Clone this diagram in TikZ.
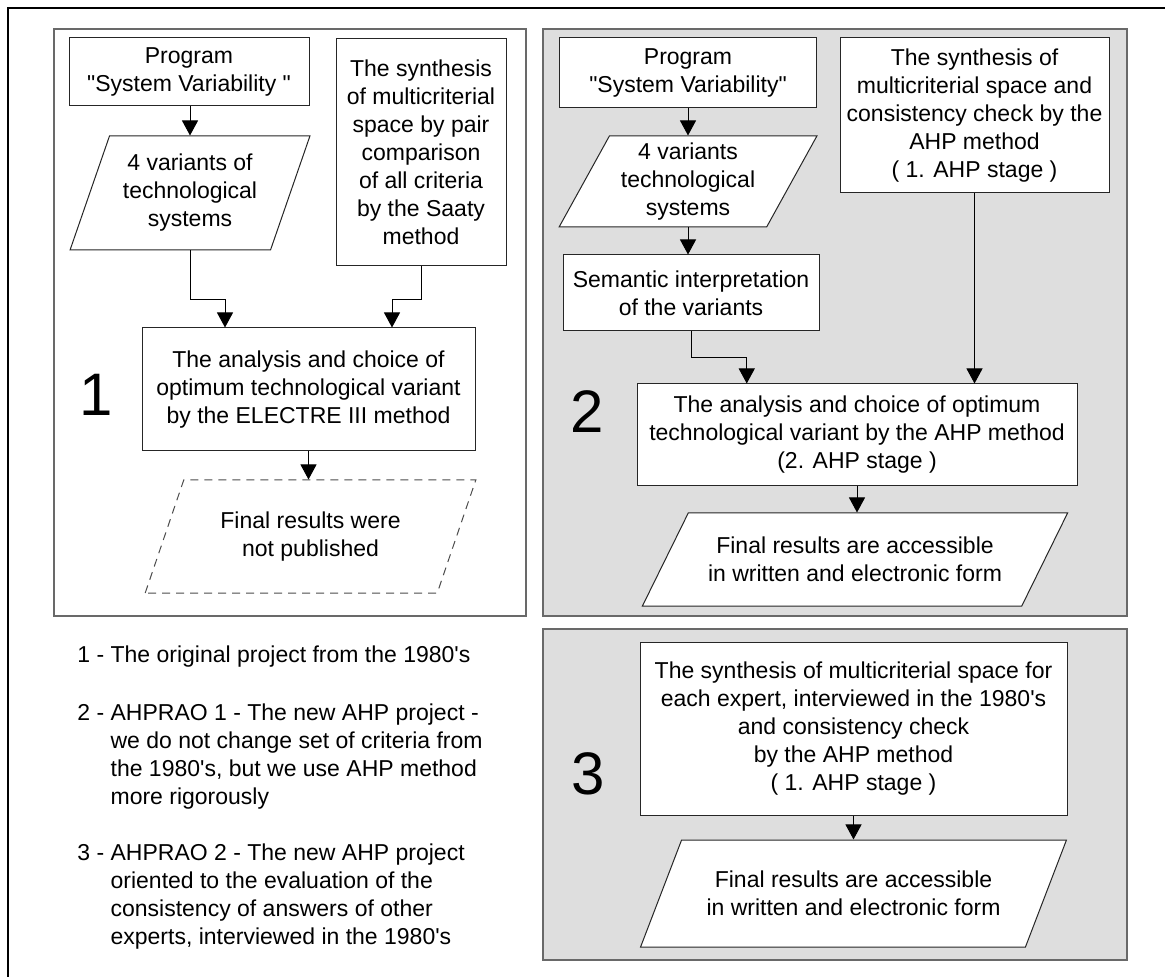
\documentclass[tikz,border=0pt]{standalone}
\usepackage{fontspec}
\setmainfont{Liberation Sans}
\usetikzlibrary{shapes.geometric,arrows.meta,calc}
\definecolor{panelgray}{RGB}{222,222,222}
\definecolor{framegray}{RGB}{105,105,105}
\newcommand{\ap}{\textquotesingle}
\newcommand{\qt}{\textquotedbl}

\begin{document}
\begin{tikzpicture}[x=0.5pt,y=-0.5pt,
	txt/.style={font=\fontsize{11.5}{14}\selectfont,align=center},
	box/.style={txt,draw=black!85,fill=white,line width=0.5pt,inner sep=0pt},
	data/.style 2 args={txt,trapezium,trapezium stretches=true,draw=black!85,fill=white,
		line width=0.5pt,inner sep=0pt,trapezium left angle=#1,trapezium right angle=#2},
	arr/.style={-{Triangle[length=7.5pt,width=8pt]},line width=0.5pt},
	panel/.style={draw=framegray,line width=1pt},
	big/.style={font=\fontsize{30}{36}\selectfont}]
	\useasboundingbox (0,0) rectangle (1165,977);
	\draw[line width=1.2pt] (8,977) -- (8,8) -- (1165,8);
	\draw[panel] (54,29) rectangle (526,616);
	\filldraw[panel,fill=panelgray] (543,29) rectangle (1127,616);
	\filldraw[panel,fill=panelgray] (543,629) rectangle (1127,960);
	% project 1
	\node[box,minimum width=120pt,minimum height=34pt] (prog1) at (189,72) {Program\\\qt System Variability \qt};
	\node[data={67}{113},minimum width=120pt,minimum height=57pt] (var1) at (190,193) {4 variants of\\technological\\systems};
	\node[box,minimum width=85pt,minimum height=113.5pt] (synth1) at (421,152.5) {The synthesis\\of multicriterial\\space by pair\\comparison\\of all criteria\\by the Saaty\\method};
	\node[box,minimum width=166.5pt,minimum height=61.5pt] (anal1) at (308.5,389.5) {The analysis and choice of\\optimum technological variant\\by the ELECTRE III method};
	\node[data={61}{119},minimum width=165.5pt,minimum height=56.5pt,draw=black!70,dash pattern=on 4pt off 3pt] (dash1) at (310.5,536.5) {Final results were\\not published};
	\node[big] (num1) at (96,395) {1};
	\draw[arr] (var1.north |- prog1.south) -- (var1.north);
	\draw[arr] (var1.south) -- ++(0,49) -| ($(anal1.north west)!.25!(anal1.north east)$);
	\draw[arr] (synth1.south) -- ++(0,33) -| ($(anal1.north west)!.75!(anal1.north east)$);
	\draw[arr] (anal1.south) -- (anal1.south |- dash1.north);
	% project 2
	\node[box,minimum width=128.5pt,minimum height=35pt] (prog2) at (688,73) {Program\\\qt System Variability\qt};
	\node[data={61}{119},minimum width=129pt,minimum height=45.5pt] (var2) at (688,181.5) {4 variants\\technological\\systems};
	\node[box,minimum width=128pt,minimum height=38pt] (sem2) at (691,293) {Semantic interpretation\\of the variants};
	\node[box,minimum width=134.5pt,minimum height=77.5pt] (synth2) at (974.5,115.5) {The synthesis of\\multicriterial space and\\consistency check by the\\AHP method\\( 1. AHP stage )};
	\node[box,minimum width=220pt,minimum height=51pt] (anal2) at (857,435) {The analysis and choice of optimum\\technological variant by the AHP method\\(2. AHP stage )};
	\node[data={48}{132},minimum width=213pt,minimum height=46.5pt] (fin2) at (855,559.5) {Final results are accessible\\in written and electronic form};
	\node[big] (num2) at (587,412) {2};
	\draw[arr] (prog2.south) -- (prog2.south |- var2.north);
	\draw[arr] (var2.south) -- (var2.south |- sem2.north);
	\draw[arr] (sem2.south) -- ++(0,26) -| ($(anal2.north west)!.25!(anal2.north east)$);
	\draw[arr] (synth2.south) -- (synth2.south |- anal2.north);
	\draw[arr] (anal2.south) -- (anal2.south |- fin2.north);
	% project 3
	\node[box,minimum width=213.5pt,minimum height=86.5pt] (synth3) at (853.5,728.5) {The synthesis of multicriterial space for\\each expert, interviewed in the 1980\ap s\\and consistency check\\by the AHP method\\( 1. AHP stage )};
	\node[data={52}{128},minimum width=213.5pt,minimum height=53.5pt] (fin3) at (853.5,893.5) {Final results are accessible\\in written and electronic form};
	\node[big] (num3) at (588,774) {3};
	\draw[arr] (synth3.south) -- (synth3.south |- fin3.north);
	% legend
	\node[txt,anchor=base west,inner sep=0pt] (leg1) at (77,662) {\begin{tabular}[t]{@{}l@{\ }l@{}}1 -&The original project from the 1980\ap s\end{tabular}};
	\node[txt,anchor=base west,inner sep=0pt] (leg2) at (77,720) {\begin{tabular}[t]{@{}l@{\ }l@{}}2 -&AHPRAO 1 - The new AHP project -\\&we do not change set of criteria from\\&the 1980\ap s, but we use AHP method\\&more rigorously\end{tabular}};
	\node[txt,anchor=base west,inner sep=0pt] (leg3) at (77,860) {\begin{tabular}[t]{@{}l@{\ }l@{}}3 -&AHPRAO 2 - The new AHP project\\&oriented to the evaluation of the\\&consistency of answers of other\\&experts, interviewed in the 1980\ap s\end{tabular}};
\end{tikzpicture}
\end{document}
